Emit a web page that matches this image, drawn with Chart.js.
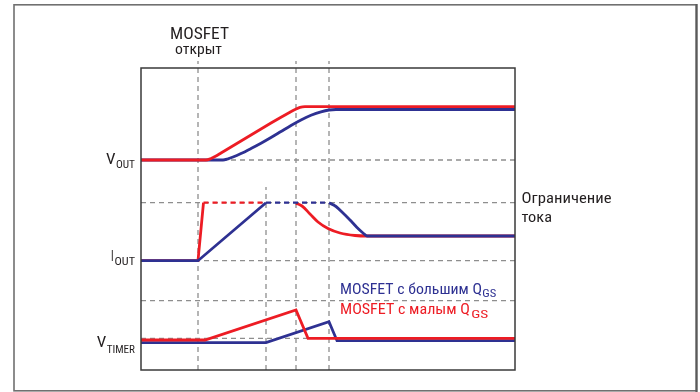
<!DOCTYPE html>
<html>
<head>
<meta charset="utf-8">
<script src="https://cdn.jsdelivr.net/npm/chart.js@4.4.1/dist/chart.umd.min.js"></script>
<style>
html,body{margin:0;padding:0;background:#fff;}
#wrap{width:700px;height:392px;position:relative;}
canvas{display:block;}
</style>
</head>
<body>
<div id="wrap"><canvas id="c" width="700" height="392"></canvas></div>
<script>
// ---- Data (time axis in arbitrary units 0..374, signal level in arbitrary units 0..302) ----
const timeRange = [0, 374];
const levelRange = [0, 302];

// V_OUT
const voutRedT   = [0, 65, 70, 75, 80, 90, 100, 110, 120, 130, 140, 148, 154, 159, 164, 374];
const voutRedV   = [210, 210, 211.5, 214, 217, 223, 229, 235, 241, 247, 252.8, 257.3, 260.5, 262.6, 263.3, 263.3];
const voutBlueT  = [0, 82, 87, 92, 100, 110, 120, 130, 140, 150, 160, 170, 180, 188, 195, 374];
const voutBlueV  = [210, 210, 211.2, 213, 216.5, 221.5, 226.8, 232.5, 238.5, 244.5, 250, 254.7, 258.2, 260, 260.5, 260.5];

// I_OUT
const ioutRedRiseT  = [0, 57, 62.5];
const ioutRedRiseV  = [109.3, 109.3, 167.3];
const ioutRedLimT   = [62.5, 125];
const ioutRedLimV   = [167.3, 167.3];
const ioutRedFallT  = [155, 161, 169, 177, 187, 199, 214, 227, 374];
const ioutRedFallV  = [166.8, 164, 156, 148, 141.5, 137, 134.5, 134, 134];
const ioutBlueRiseT = [0, 57, 125];
const ioutBlueRiseV = [109.3, 109.3, 167.3];
const ioutBlueLimT  = [125, 188];
const ioutBlueLimV  = [167.3, 167.3];
const ioutBlueFallT = [188, 195, 202, 209, 216, 222, 226, 374];
const ioutBlueFallV = [167.3, 163.5, 157, 150, 142.5, 137, 134, 134];

// V_TIMER
const vtimerRedT  = [0, 64, 155, 167, 374];
const vtimerRedV  = [30, 30, 60, 31.7, 31.7];
const vtimerBlueT = [0, 125, 188, 196, 374];
const vtimerBlueV = [27.3, 27.3, 48.3, 29.3, 29.3];

// reference (dashed) levels and instants
const refLevels   = [210, 167.3, 109.3, 69.3, 31.7];
const refInstants = [57, 125, 155, 188];
const refInstantTops = [309, 183, 309, 309];

// texts
const topLabel = ['MOSFET', 'открыт'];
const limitLabel = ['Ограничение', 'тока'];
const sigLabels = [['V', 'OUT'], ['I', 'OUT'], ['V', 'TIMER']];
const legendTexts = [['MOSFET с большим Q', 'GS'], ['MOSFET с малым Q', 'GS']];

// ---- Styles ----
const RED = '#ed1c24', BLUE = '#2e3192', GRID = '#8e8e8e', TXT = '#231f20';
const zip = (xs, ys) => xs.map((x, i) => ({x: x, y: ys[i]}));

function sig(xs, ys, color, order, smooth) {
  return {data: zip(xs, ys), borderColor: color, borderWidth: 2.8, pointRadius: 0,
    fill: false, order: order, cubicInterpolationMode: smooth ? 'monotone' : 'default',
    tension: 0, borderJoinStyle: 'miter', borderCapStyle: 'butt'};
}
function dashSig(xs, ys, color, order) {
  return {data: zip(xs, ys), borderColor: color, borderWidth: 2.2, borderDash: [5, 4],
    pointRadius: 0, fill: false, order: order, tension: 0};
}

const datasets = [];
datasets.push(sig(voutRedT, voutRedV, RED, 1, true));
datasets.push(sig(ioutBlueRiseT, ioutBlueRiseV, BLUE, 2, false));
datasets.push(dashSig(ioutBlueLimT, ioutBlueLimV, BLUE, 2));
datasets.push(sig(ioutBlueFallT, ioutBlueFallV, BLUE, 2, true));
datasets.push(sig(vtimerRedT, vtimerRedV, RED, 3, false));
datasets.push(sig(voutBlueT, voutBlueV, BLUE, 4, true));
datasets.push(sig(ioutRedRiseT, ioutRedRiseV, RED, 5, false));
datasets.push(dashSig(ioutRedLimT, ioutRedLimV, RED, 5));
datasets.push(sig(ioutRedFallT, ioutRedFallV, RED, 5, true));
datasets.push(sig(vtimerBlueT, vtimerBlueV, BLUE, 6, false));
refLevels.forEach(v => datasets.push({data: zip(timeRange, [v, v]), borderColor: GRID,
  borderWidth: 1.3, borderDash: [5, 4], pointRadius: 0, order: 10}));
refInstants.forEach((t, i) => datasets.push({data: zip([t, t], [0, refInstantTops[i]]), borderColor: GRID,
  borderWidth: 1.3, borderDash: [5, 4], pointRadius: 0, order: 10, clip: false}));

const FONT = '"Liberation Sans Narrow", "Roboto Condensed", Roboto, "DejaVu Sans", sans-serif';
function fitText(ctx, str, left, baseline, width, size, color) {
  ctx.font = size + 'px ' + FONT;
  const w = ctx.measureText(str).width;
  ctx.save();
  ctx.fillStyle = color;
  ctx.textAlign = 'left';
  ctx.textBaseline = 'alphabetic';
  ctx.translate(left, baseline);
  ctx.scale(width / w, 1);
  ctx.fillText(str, 0, 0);
  ctx.restore();
}

const decor = {
  id: 'decor',
  afterDraw(chart) {
    const ctx = chart.ctx, a = chart.chartArea;
    ctx.save();
    // outer frame
    ctx.strokeStyle = '#707070';
    ctx.lineWidth = 1.6;
    ctx.strokeRect(14, 4.8, 682.5, 386);
    ctx.beginPath();
    ctx.lineWidth = 2.2;
    ctx.strokeStyle = '#5a5a5a';
    ctx.moveTo(696.5, 4);
    ctx.lineTo(696.5, 392);
    ctx.stroke();
    // plot box
    ctx.strokeStyle = '#3a3a3a';
    ctx.lineWidth = 1.5;
    ctx.strokeRect(a.left, a.top, a.right - a.left, a.bottom - a.top);
    ctx.restore();

    fitText(ctx, topLabel[0], 170, 39, 59, 16, TXT);
    fitText(ctx, topLabel[1], 175, 54, 47, 15, TXT);
    fitText(ctx, limitLabel[0], 521.5, 202.5, 90, 15, TXT);
    fitText(ctx, limitLabel[1], 521.5, 221.5, 30.5, 15, TXT);

    // signal names with subscripts
    fitText(ctx, sigLabels[0][0], 106, 164, 9.5, 15.5, TXT);
    fitText(ctx, sigLabels[0][1], 116, 167.7, 19, 10, TXT);
    fitText(ctx, sigLabels[1][0], 111, 261, 2.6, 15.5, TXT);
    fitText(ctx, sigLabels[1][1], 114.5, 265, 20.5, 10, TXT);
    fitText(ctx, sigLabels[2][0], 96.7, 347.3, 9.5, 15.5, TXT);
    fitText(ctx, sigLabels[2][1], 106.7, 353.3, 28.3, 10, TXT);

    // legend
    fitText(ctx, legendTexts[0][0], 340, 294, 142, 15, BLUE);
    fitText(ctx, legendTexts[0][1], 482.3, 297, 14, 10, BLUE);
    fitText(ctx, legendTexts[1][0], 340, 314.3, 130, 15, RED);
    fitText(ctx, legendTexts[1][1], 471.3, 318, 17, 10, RED);
  }
};

new Chart(document.getElementById('c'), {
  type: 'line',
  data: {datasets: datasets},
  options: {
    responsive: false,
    devicePixelRatio: 1,
    animation: false,
    parsing: true,
    layout: {padding: {left: 141, top: 68, right: 185, bottom: 22}},
    scales: {
      x: {type: 'linear', display: false, min: timeRange[0], max: timeRange[1]},
      y: {type: 'linear', display: false, min: levelRange[0], max: levelRange[1]}
    },
    plugins: {legend: {display: false}, tooltip: {enabled: false}}
  },
  plugins: [decor]
});
</script>
</body>
</html>
